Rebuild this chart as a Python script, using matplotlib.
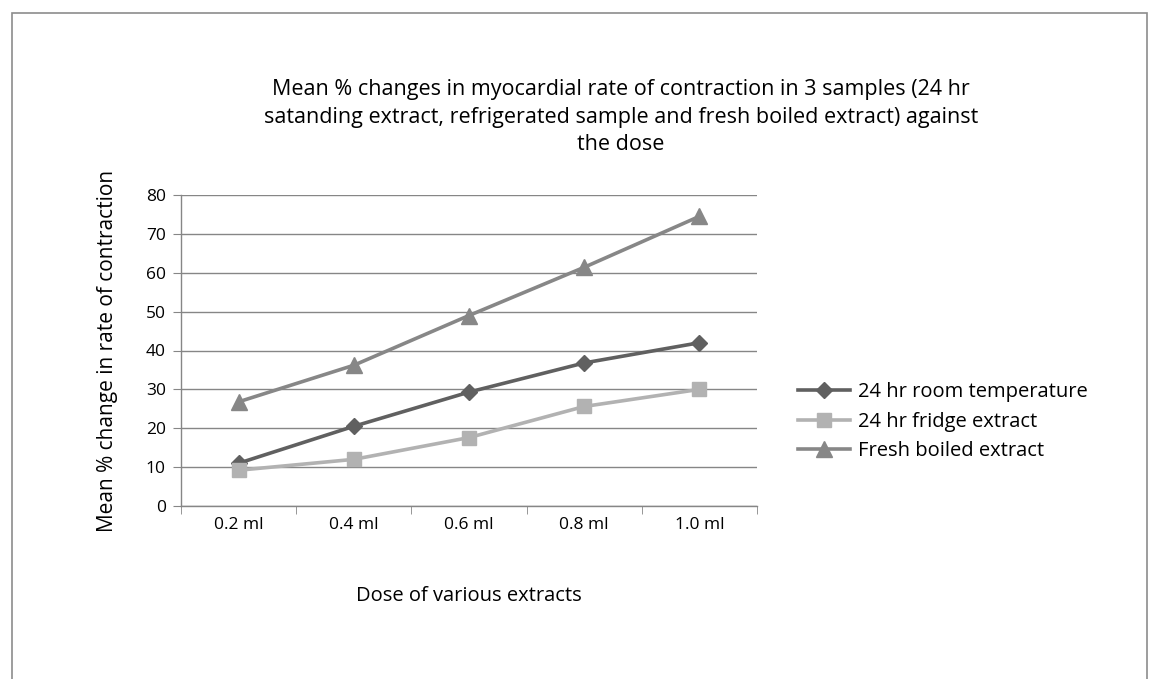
import matplotlib
matplotlib.use("Agg")
import matplotlib.pyplot as plt
from matplotlib.patches import Rectangle

categories = ["0.2 ml", "0.4 ml", "0.6 ml", "0.8 ml", "1.0 ml"]
room_temp = [11, 20.5, 29.3, 36.8, 42]
fridge = [9.2, 12, 17.6, 25.6, 30]
fresh = [26.8, 36.2, 49, 61.4, 74.5]
series_names = ["24 hr room temperature", "24 hr fridge extract", "Fresh boiled extract"]
y_ticks = [0, 10, 20, 30, 40, 50, 60, 70, 80]

plt.rcParams['font.family'] = ['Open Sans', 'DejaVu Sans']

fig = plt.figure(figsize=(11.5, 6.79), dpi=100)
fig.patch.set_facecolor('white')
fig.add_artist(Rectangle((12/1150, -0.01), (1147-12)/1150, 1 - 13/679 + 0.01,
                         transform=fig.transFigure, fill=False, edgecolor='#8c8c8c', lw=1.2))

ax = fig.add_axes([181/1150, 1-506/679, (757-181)/1150, (506-195)/679])
x = list(range(len(categories)))

grid_col = '#868686'
ax.plot(x, room_temp, color='#606060', lw=2.6, marker='D', ms=8, label=series_names[0], zorder=3)
ax.plot(x, fridge, color='#b2b2b2', lw=2.6, marker='s', ms=10, label=series_names[1], zorder=3)
ax.plot(x, fresh, color='#878787', lw=2.6, marker='^', ms=11, label=series_names[2], zorder=3)

ax.set_xlim(-0.5, len(categories) - 0.5)
ax.set_ylim(0, 80)
ax.set_yticks(y_ticks)
ax.set_xticks(x)
ax.set_xticklabels(categories)
ax.set_xticks([i - 0.5 for i in range(len(categories) + 1)], minor=True)
ax.tick_params(axis='x', which='major', length=0, pad=8, labelsize=12.5)
ax.tick_params(axis='x', which='minor', length=6, color=grid_col, direction='out')
ax.tick_params(axis='y', length=6, color=grid_col, direction='out', labelsize=12.5, pad=5)
ax.yaxis.grid(True, color=grid_col, lw=1)
ax.set_axisbelow(True)
for s in ['top', 'right']:
    ax.spines[s].set_visible(False)
for s in ['left', 'bottom']:
    ax.spines[s].set_color(grid_col)
    ax.spines[s].set_linewidth(1)

ax.set_ylabel("Mean % change in rate of contraction", fontsize=15, labelpad=20)
ax.set_xlabel("Dose of various extracts", fontsize=14.5, labelpad=38)

fig.text(621/1150, 1 - 117/679,
         "Mean % changes in myocardial rate of contraction in 3 samples (24 hr\n"
         "satanding extract, refrigerated sample and fresh boiled extract) against\n"
         "the dose", ha='center', va='center', fontsize=15.5, linespacing=1.42)

ax.legend(loc='upper left', bbox_to_anchor=(780/1150, 1 - 364/679), bbox_transform=fig.transFigure,
          frameon=False, fontsize=14.5, handlelength=2.6, labelspacing=0.48, handletextpad=0.35)

fig.savefig("out.png", dpi=100)
